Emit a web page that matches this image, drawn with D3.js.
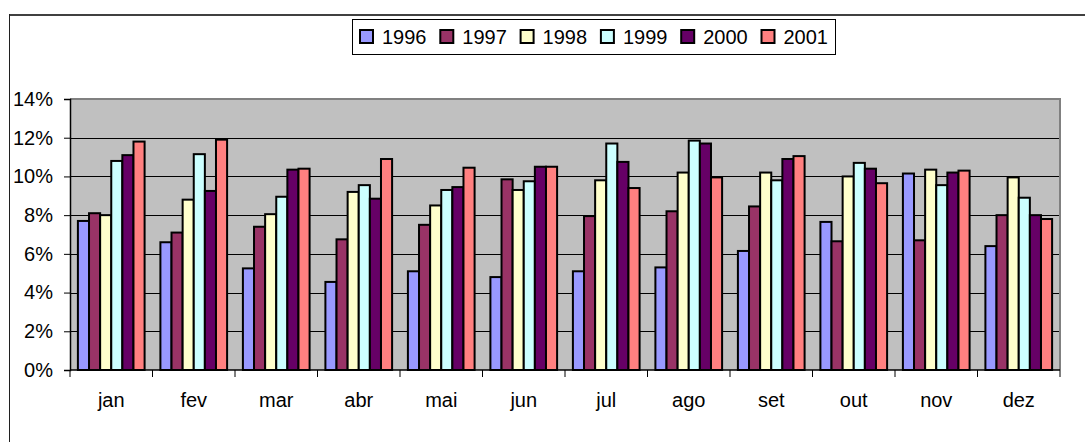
<!DOCTYPE html>
<html>
<head>
<meta charset="utf-8">
<script src="https://cdn.jsdelivr.net/npm/d3@7.9.0/dist/d3.min.js"></script>
<style>
  body { margin: 0; background: #fff; }
  svg text { font-family: "Liberation Sans", Arial, sans-serif; fill: #000; }
</style>
</head>
<body>
<svg id="chart" width="1085" height="442"></svg>
<script>
// months on the x axis
const months = ["jan", "fev", "mar", "abr", "mai", "jun", "jul", "ago", "set", "out", "nov", "dez"];
const years = ["1996", "1997", "1998", "1999", "2000", "2001"];
const yTicks = [0, 0.02, 0.04, 0.06, 0.08, 0.10, 0.12, 0.14];

// one array per year, values in %
const v1996 = [7.7, 6.6, 5.25, 4.55, 5.1, 4.8, 5.1, 5.3, 6.15, 7.65, 10.15, 6.4];
const v1997 = [8.1, 7.1, 7.4, 6.75, 7.5, 9.85, 7.95, 8.2, 8.45, 6.65, 6.7, 8.0];
const v1998 = [8.0, 8.8, 8.05, 9.2, 8.5, 9.3, 9.8, 10.2, 10.2, 10.0, 10.35, 9.95];
const v1999 = [10.8, 11.15, 8.95, 9.55, 9.3, 9.75, 11.7, 11.85, 9.8, 10.7, 9.55, 8.9];
const v2000 = [11.1, 9.25, 10.35, 8.85, 9.45, 10.5, 10.75, 11.7, 10.9, 10.4, 10.2, 8.0];
const v2001 = [11.8, 11.9, 10.4, 10.9, 10.45, 10.5, 9.4, 9.95, 11.05, 9.65, 10.3, 7.8];

const series = [v1996, v1997, v1998, v1999, v2000, v2001];
const colors = ["#9999FF", "#993366", "#FFFFCC", "#CCFFFF", "#660066", "#FF8080"];

const svg = d3.select("#chart");
const plotL = 70, plotR = 1060, plotT = 99, plotB = 370;

// chart frame (top + left edges only visible)
svg.append("line").attr("x1", 9).attr("x2", 1085).attr("y1", 15).attr("y2", 15)
  .attr("stroke", "#404040").attr("stroke-width", 2);
svg.append("line").attr("x1", 9.5).attr("x2", 9.5).attr("y1", 14).attr("y2", 442)
  .attr("stroke", "#202020").attr("stroke-width", 1);

const x0 = d3.scaleBand().domain(months).range([plotL, plotR]);
const gap = 7.9;
const x1 = d3.scaleBand().domain(years).range([gap, x0.bandwidth() - gap]);
const y = d3.scaleLinear().domain([0, 0.14]).range([plotB, plotT]);

// plot area
svg.append("rect").attr("x", plotL).attr("y", plotT)
  .attr("width", plotR - plotL).attr("height", plotB - plotT)
  .attr("fill", "#C0C0C0");

// gridlines
svg.append("g").selectAll("line")
  .data(yTicks.filter(t => t > 0 && t < 0.14))
  .join("line")
  .attr("x1", plotL).attr("x2", plotR)
  .attr("y1", d => Math.round(y(d)) + 0.5).attr("y2", d => Math.round(y(d)) + 0.5)
  .attr("stroke", "#000").attr("stroke-width", 1);

// plot border top/right (gray)
svg.append("path")
  .attr("d", `M${plotL},${plotT} H${plotR} V${plotB}`)
  .attr("fill", "none").attr("stroke", "#808080").attr("stroke-width", 2);

// bars
const groups = svg.append("g").selectAll("g")
  .data(months)
  .join("g")
  .attr("transform", m => `translate(${x0(m)},0)`);

groups.selectAll("rect")
  .data((m, mi) => years.map((yr, si) => ({ yr, si, v: series[si][mi] / 100 })))
  .join("rect")
  .attr("x", d => x1(d.yr))
  .attr("y", d => y(d.v))
  .attr("width", x1.bandwidth())
  .attr("height", d => plotB - y(d.v))
  .attr("fill", d => colors[d.si])
  .attr("stroke", "#000")
  .attr("stroke-width", 2);

// y axis
const yAxis = svg.append("g")
  .attr("transform", `translate(${plotL},0)`)
  .call(d3.axisLeft(y).tickValues(yTicks).tickFormat(d3.format(".0%")).tickSize(6).tickPadding(11));
yAxis.select(".domain").attr("stroke", "#000").attr("stroke-width", 1.5);
yAxis.selectAll("text").attr("font-size", 20).attr("font-family", "Liberation Sans, Arial, sans-serif");

// x axis
svg.append("line").attr("x1", plotL).attr("x2", plotR).attr("y1", plotB).attr("y2", plotB)
  .attr("stroke", "#000").attr("stroke-width", 1.5);
svg.append("g").selectAll("line")
  .data(months.map(m => x0(m)).concat([plotR]))
  .join("line")
  .attr("x1", d => d).attr("x2", d => d)
  .attr("y1", plotB).attr("y2", plotB + 7)
  .attr("stroke", "#000");
svg.append("g").selectAll("text")
  .data(months)
  .join("text")
  .attr("x", m => x0(m) + x0.bandwidth() / 2)
  .attr("y", 407)
  .attr("text-anchor", "middle")
  .attr("font-size", 20)
  .text(m => m);

// legend
const legend = svg.append("g");
legend.append("rect").attr("x", 352.5).attr("y", 19.5).attr("width", 483).attr("height", 35)
  .attr("fill", "#fff").attr("stroke", "#000").attr("stroke-width", 1);
const items = legend.selectAll("g")
  .data(years)
  .join("g")
  .attr("transform", (d, i) => `translate(${360 + i * 80.3},0)`);
items.append("rect")
  .attr("x", 0).attr("y", 30).attr("width", 13).attr("height", 13)
  .attr("fill", (d, i) => colors[i]).attr("stroke", "#000").attr("stroke-width", 2);
items.append("text")
  .attr("x", 22).attr("y", 43.5)
  .attr("font-size", 20)
  .text(d => d);
</script>
</body>
</html>
